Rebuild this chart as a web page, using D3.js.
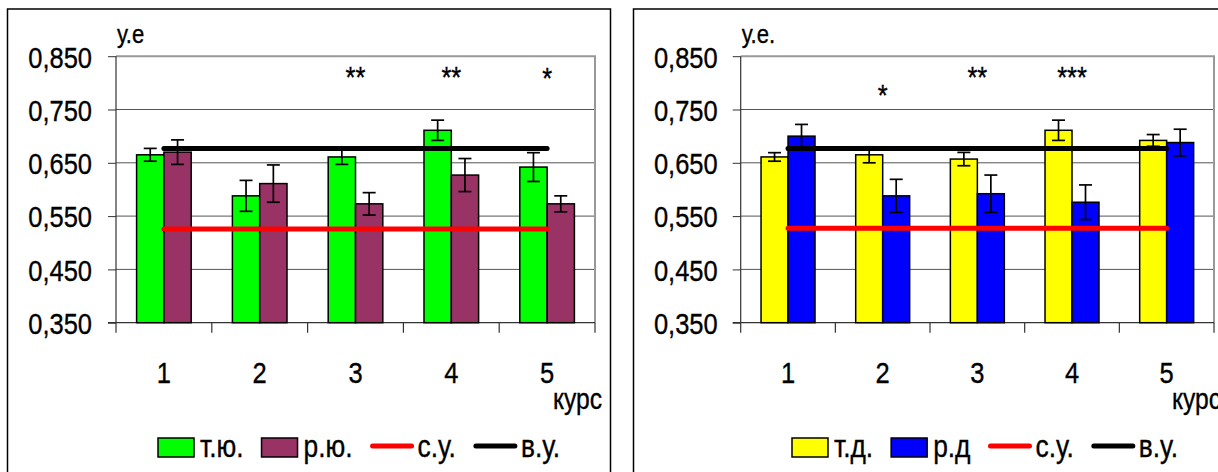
<!DOCTYPE html>
<html><head><meta charset="utf-8">
<script src="https://cdn.jsdelivr.net/npm/d3@7"></script>
<style>
html,body{margin:0;padding:0;background:#fff;}
svg{display:block;}
</style></head>
<body>
<svg id="c" width="1218" height="472"></svg>
<script>
// ---------- DATA ----------
const categories = ["1","2","3","4","5"];
const yTicks = [0.35,0.45,0.55,0.65,0.75,0.85];

// left chart
const leftSeriesNames = ["т.ю.","р.ю."];
const tyuValues = [0.665,0.588,0.661,0.711,0.642];
const tyuErr    = [0.012,0.029,0.014,0.019,0.027];
const ryuValues = [0.670,0.611,0.573,0.627,0.573];
const ryuErr    = [0.023,0.035,0.021,0.031,0.015];
const leftSU = [0.526,0.526,0.526,0.526,0.526];
const leftVU = [0.677,0.677,0.677,0.677,0.677];
const leftStars = ["","","**","**","*"];
const leftStarLevels = [null,null,0.822,0.822,0.820];

// right chart
const rightSeriesNames = ["т.д.","р.д"];
const tdValues = [0.661,0.665,0.657,0.711,0.692];
const tdErr    = [0.008,0.015,0.0125,0.019,0.011];
const rdValues = [0.700,0.588,0.592,0.576,0.688];
const rdErr    = [0.022,0.031,0.035,0.0325,0.025];
const rightSU = [0.527,0.527,0.527,0.527,0.527];
const rightVU = [0.677,0.677,0.677,0.677,0.677];
const rightStars = ["","*","**","***",""];
const rightStarLevels = [null,0.788,0.822,0.822,null];

const lineNames = ["с.у.","в.у."];

// ---------- DRAW ----------
const FONT = "'Liberation Sans',Arial,sans-serif";
const SX = 0.85; // horizontal condensing (Arial Narrow look)
const svg = d3.select("#c");
const loc = d3.formatLocale({decimal:",",thousands:" ",grouping:[3],currency:["",""]});
const fmt = loc.format(".3f");

function ntext(parent, x, y, txt, size, anchor){
  const t = parent.append("text")
    .attr("transform",`translate(${x},${y}) scale(${SX},1)`)
    .attr("font-family",FONT).attr("font-size",size).attr("fill","#000")
    .attr("stroke","#000").attr("stroke-width",0.35)
    .attr("text-anchor",anchor||"start").text(txt);
  return t;
}

function drawChart(opt){
  const g = svg.append("g");
  g.append("rect").attr("x",opt.frame[0]).attr("y",opt.frame[1])
    .attr("width",opt.frame[2]).attr("height",opt.frame[3])
    .attr("fill","none").attr("stroke","#000").attr("stroke-width",1.5);

  const x = d3.scaleBand().domain(categories).range([opt.left,opt.right]).padding(0);
  const x1 = d3.scaleBand().domain([0,1]).range([0,x.bandwidth()]).paddingInner(0).paddingOuter(0.754);
  const y = d3.scaleLinear().domain([0.35,0.85]).range([opt.bottom,opt.top]);

  // gridlines
  g.append("g").selectAll("line").data(yTicks.slice(1,-1)).join("line")
    .attr("x1",opt.left).attr("x2",opt.right)
    .attr("y1",d=>y(d)).attr("y2",d=>y(d))
    .attr("stroke","#555").attr("stroke-width",1);
  g.append("path")
    .attr("d",`M${opt.left},${y(0.85)}H${opt.right}V${y(0.35)}`)
    .attr("fill","none").attr("stroke","#999").attr("stroke-width",2);

  // y axis
  const ya = g.append("g").attr("transform",`translate(${opt.left},0)`)
    .call(d3.axisLeft(y).tickValues(yTicks).tickFormat(fmt).tickSize(8).tickPadding(opt.labelPad));
  ya.select(".domain").remove();
  ya.selectAll(".tick line").attr("stroke","#333");
  ya.selectAll("text").attr("font-family",FONT).attr("font-size",30).attr("fill","#000")
    .attr("stroke","#000").attr("stroke-width",0.35)
    .attr("dy","0.36em").attr("x",-(8+opt.labelPad)/SX).attr("transform",`scale(${SX},1)`);
  g.append("line").attr("x1",opt.left).attr("x2",opt.left).attr("y1",y(0.85)).attr("y2",y(0.35)+10)
    .attr("stroke","#333").attr("stroke-width",1.2);

  // x axis
  g.append("line").attr("x1",opt.left-8).attr("x2",opt.right).attr("y1",y(0.35)).attr("y2",y(0.35))
    .attr("stroke","#333").attr("stroke-width",1.2);
  const bounds = categories.map(c=>x(c)).concat([opt.right]);
  g.append("g").selectAll("line").data(bounds.slice(1)).join("line")
    .attr("x1",d=>d).attr("x2",d=>d).attr("y1",y(0.35)).attr("y2",y(0.35)+10)
    .attr("stroke","#333").attr("stroke-width",1.2);
  const xl = g.append("g");
  categories.forEach(c=>ntext(xl, x(c)+x.bandwidth()/2, y(0.35)+60, c, 30, "middle"));

  // bars
  opt.series.forEach((s,si)=>{
    g.append("g").selectAll("rect").data(s.values).join("rect")
      .attr("x",(d,i)=>x(categories[i])+x1(si))
      .attr("y",d=>y(d)).attr("width",x1.bandwidth()).attr("height",d=>y(0.35)-y(d))
      .attr("fill",s.color).attr("stroke","#000").attr("stroke-width",1.5);
  });
  // error bars
  opt.series.forEach((s,si)=>{
    const eg = g.append("g").attr("stroke","#000").attr("stroke-width",1.7);
    s.values.forEach((v,i)=>{
      const cx = x(categories[i])+x1(si)+x1.bandwidth()/2;
      const e = s.err[i];
      eg.append("line").attr("x1",cx).attr("x2",cx).attr("y1",y(v+e)).attr("y2",y(v-e));
      eg.append("line").attr("x1",cx-6.5).attr("x2",cx+6.5).attr("y1",y(v+e)).attr("y2",y(v+e));
      eg.append("line").attr("x1",cx-6.5).attr("x2",cx+6.5).attr("y1",y(v-e)).attr("y2",y(v-e));
    });
  });
  // reference lines
  const line = d3.line().x((d,i)=>x(categories[i])+x.bandwidth()/2).y(d=>y(d));
  g.append("path").attr("d",line(opt.su)).attr("fill","none").attr("stroke","#ff0000")
    .attr("stroke-width",5).attr("stroke-linecap","round");
  g.append("path").attr("d",line(opt.vu)).attr("fill","none").attr("stroke","#000")
    .attr("stroke-width",5).attr("stroke-linecap","round");

  // significance stars
  const sg = g.append("g");
  opt.stars.forEach((s,i)=>{
    if(!s) return;
    ntext(sg, x(categories[i])+x.bandwidth()/2, y(opt.starLevels[i])+16, s, 30, "middle");
  });

  // unit label
  ntext(g, opt.left+1, 43, opt.unit, 26, "start");
  // курс
  ntext(g, opt.kursX, 409, "курс", 29, "start");

  // legend
  const lg = g.append("g").attr("transform",`translate(${opt.legendX},0)`);
  let cx = 0;
  const items = [
    {type:"box",color:opt.series[0].color,name:opt.series[0].name},
    {type:"box",color:opt.series[1].color,name:opt.series[1].name},
    {type:"line",color:"#ff0000",name:lineNames[0]},
    {type:"line",color:"#000",name:lineNames[1]}
  ];
  items.forEach(it=>{
    if(it.type==="box"){
      lg.append("rect").attr("x",cx).attr("y",438).attr("width",36).attr("height",19)
        .attr("fill",it.color).attr("stroke","#000").attr("stroke-width",1.5);
      cx += 42;
    } else {
      lg.append("line").attr("x1",cx+2).attr("x2",cx+41).attr("y1",446).attr("y2",446)
        .attr("stroke",it.color).attr("stroke-width",5).attr("stroke-linecap","round");
      cx += 47;
    }
    const t = ntext(lg, cx, 457, it.name, 31, "start");
    cx += t.node().getComputedTextLength()*SX + 18;
  });
}

drawChart({
  frame:[7.5,9,603,480],
  left:116,right:595,top:56.2,bottom:322.7,labelPad:16,
  series:[{name:leftSeriesNames[0],values:tyuValues,err:tyuErr,color:"#00ff00"},
          {name:leftSeriesNames[1],values:ryuValues,err:ryuErr,color:"#993366"}],
  su:leftSU,vu:leftVU,stars:leftStars,starLevels:leftStarLevels,
  unit:"у.е",kursX:553,legendX:158
});
drawChart({
  frame:[633.5,9,620,480],
  left:740.7,right:1214,top:56.2,bottom:322.7,labelPad:15,
  series:[{name:rightSeriesNames[0],values:tdValues,err:tdErr,color:"#ffff00"},
          {name:rightSeriesNames[1],values:rdValues,err:rdErr,color:"#0000ff"}],
  su:rightSU,vu:rightVU,stars:rightStars,starLevels:rightStarLevels,
  unit:"у.е.",kursX:1172,legendX:792
});
</script>
</body></html>
